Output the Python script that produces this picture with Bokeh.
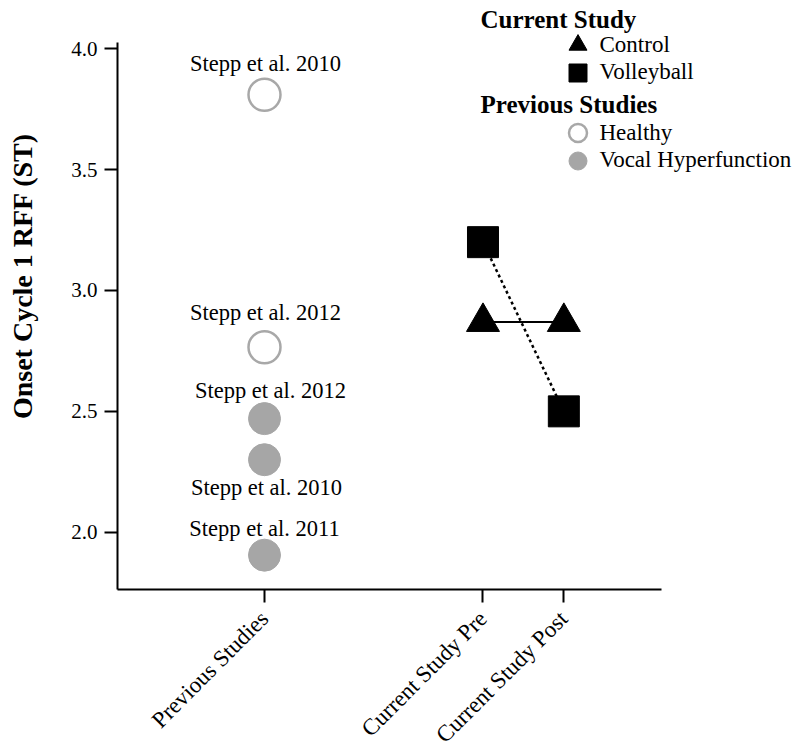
from math import pi
from bokeh.plotting import figure
from bokeh.models import (ColumnDataSource, Range1d, FixedTicker, Label, Legend, LegendItem)
from bokeh.core.properties import value
from bokeh.embed import file_html
from bokeh.resources import INLINE

FONT = "Liberation Serif"

# ---- data ----
x_categories = ["Previous Studies", "Current Study Pre", "Current Study Post"]
x_positions = [1.0, 2.0, 2.37]

prev_labels = ["Stepp et al. 2010", "Stepp et al. 2012", "Stepp et al. 2012",
               "Stepp et al. 2010", "Stepp et al. 2011"]
prev_groups = ["Healthy", "Healthy", "Vocal Hyperfunction",
               "Vocal Hyperfunction", "Vocal Hyperfunction"]
prev_values = [3.81, 2.765, 2.47, 2.30, 1.905]

control_values = [2.87, 2.87]
volleyball_values = [3.20, 2.50]

y_ticks = [2.0, 2.5, 3.0, 3.5, 4.0]

# axis extents (data units) and label placement (pixels)
x_axis_bounds = (0.3272, 2.817)
y_axis_bounds = (1.761, 4.027)
label_dx = [1, 1, 6, 2, 0]
label_dy = [-31, -35, -28, 28, -27]

W, H = 800, 751

# ---- figure: frame covers the whole canvas, axes placed at fixed locations ----
p = figure(width=W, height=H, output_backend="svg", toolbar_location=None,
           x_range=Range1d(-0.2082, 3.4531), y_range=Range1d(1.0927, 4.1998),
           min_border_left=0, min_border_right=0, min_border_top=0, min_border_bottom=0)
p.outline_line_color = None
p.grid.visible = False
p.background_fill_color = "white"
p.border_fill_color = "white"

healthy = ColumnDataSource(dict(
    x=[x_positions[0] for g in prev_groups if g == "Healthy"],
    y=[v for v, g in zip(prev_values, prev_groups) if g == "Healthy"]))
vh = ColumnDataSource(dict(
    x=[x_positions[0] for g in prev_groups if g != "Healthy"],
    y=[v for v, g in zip(prev_values, prev_groups) if g != "Healthy"]))
labels = ColumnDataSource(dict(
    x=[x_positions[0]] * len(prev_labels), y=prev_values, text=prev_labels,
    dx=label_dx, dy=label_dy))

r_h = p.scatter("x", "y", source=healthy, marker="circle", size=32,
                fill_color="white", line_color="#a8a8a8", line_width=2.5)
r_vh = p.scatter("x", "y", source=vh, marker="circle", size=32,
                 fill_color="#a6a6a6", line_color="#a6a6a6", line_width=1)
p.text(x="x", y="y", text="text", x_offset="dx", y_offset="dy", source=labels,
       text_font=value(FONT), text_font_size="22.5px", text_align="center",
       text_baseline="middle", text_color="black")

cur_x = x_positions[1:]
p.line(cur_x, control_values, line_color="black", line_width=2)
p.line(cur_x, volleyball_values, line_color="black", line_width=2.5, line_dash="3 3")
r_c = p.scatter(cur_x, control_values, marker="triangle", size=33,
                fill_color="black", line_color="black")
r_v = p.scatter(cur_x, volleyball_values, marker="square", size=31,
                fill_color="black", line_color="black")

# ---- axes ----
for ax in (p.xaxis[0], p.yaxis[0]):
    ax.axis_line_width = 2
    ax.axis_line_color = "black"
    ax.major_tick_line_width = 2
    ax.major_tick_line_color = "black"
    ax.major_tick_out = 13
    ax.major_tick_in = 0
    ax.minor_tick_line_color = None
    ax.major_label_text_font = FONT
    ax.major_label_text_color = "black"

p.yaxis.fixed_location = x_axis_bounds[0]
p.yaxis.bounds = y_axis_bounds
p.yaxis.ticker = FixedTicker(ticks=y_ticks)
p.yaxis.major_label_overrides = {t: f"{t:.1f}" for t in y_ticks}
p.yaxis.major_label_text_font_size = "21px"
p.yaxis.major_label_standoff = 7

p.xaxis.fixed_location = y_axis_bounds[0]
p.xaxis.bounds = x_axis_bounds
p.xaxis.ticker = FixedTicker(ticks=x_positions)
p.xaxis.major_label_overrides = {xp: c for xp, c in zip(x_positions, x_categories)}
p.xaxis.major_label_orientation = pi / 4
p.xaxis.major_label_text_font_size = "23px"
p.xaxis.major_label_standoff = 12

# y-axis title
p.add_layout(Label(x=22, y=H - 275.5, x_units="screen", y_units="screen", angle=pi / 2,
                   text="Onset Cycle 1 RFF (ST)", text_font=FONT, text_font_size="28px",
                   text_font_style="bold", text_align="center", text_baseline="middle",
                   text_color="black"))

# ---- legend ----
for txt, cy in (("Current Study", 18.5), ("Previous Studies", 103.5)):
    p.add_layout(Label(x=480, y=H - cy, x_units="screen", y_units="screen", text=txt,
                       text_font=FONT, text_font_size="25px", text_font_style="bold",
                       text_align="left", text_baseline="middle", text_color="black"))

common = dict(glyph_width=45, glyph_height=45, padding=0, margin=0, label_standoff=0,
              border_line_color=None, background_fill_alpha=0,
              label_text_font=FONT, label_text_font_size="23px", label_text_color="black")
for name, rend, cy in (("Control", r_c, 44.5), ("Volleyball", r_v, 72),
                       ("Healthy", r_h, 132.5), ("Vocal Hyperfunction", r_vh, 160)):
    p.add_layout(Legend(items=[LegendItem(label=name, renderers=[rend])],
                        location=(554.5, H - (cy + 22.5)), **common))

open("out.html", "w").write(file_html(p, INLINE))
